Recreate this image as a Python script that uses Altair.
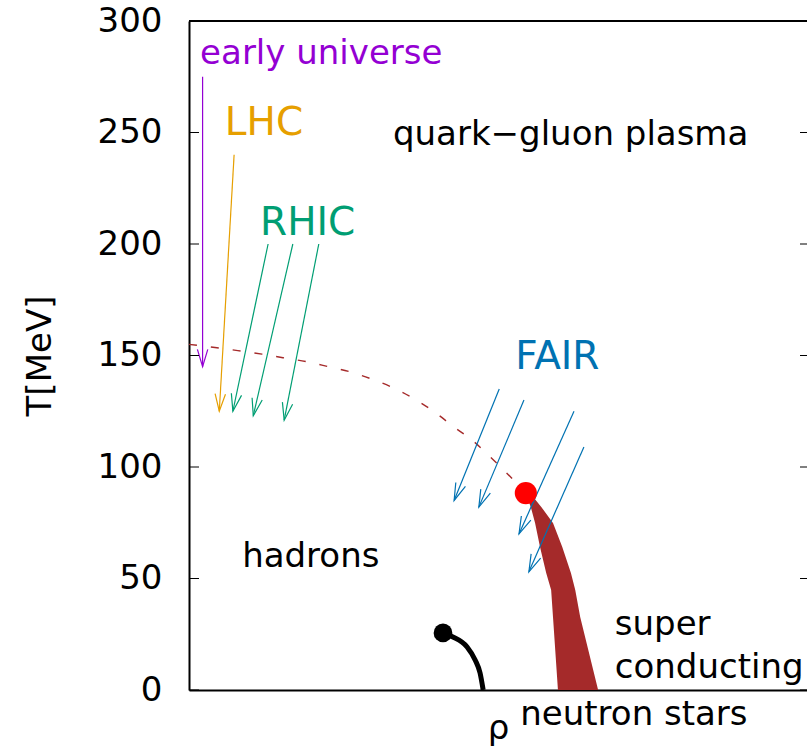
import numpy as np
import pandas as pd
import altair as alt

# ---- plot geometry -------------------------------------------------------
W, H = 618, 669
RHO_MAX = 10.0
T_MAX = 300
T_TICKS = [0, 50, 100, 150, 200, 250, 300]
FONT = "DejaVu Sans"

# ---- crossover line (dashed) running into the critical point -------------
crossover_rho = [0.00, 0.42, 0.79, 1.18, 1.52, 1.91, 2.25, 2.64, 2.98,
                 3.33, 3.66, 3.98, 4.27, 4.60, 4.85, 5.13, 5.45]
crossover_T = [155.0, 153.6, 152.2, 150.6, 149.0, 147.2, 145.0, 142.4, 139.2,
               135.2, 130.3, 124.5, 118.3, 111.6, 105.2, 97.6, 88.3]

critical_rho, critical_T = [5.45], [88.3]

# ---- nuclear liquid-gas transition ---------------------------------------
liquid_gas_rho = [4.11, 4.27, 4.50, 4.63, 4.71, 4.76]
liquid_gas_T = [25.6, 23.8, 19.3, 13.5, 7.6, 0.0]
nuclear_rho, nuclear_T = [4.11], [25.6]

# ---- colour-superconducting band -----------------------------------------
band_T = [0.0, 32.7, 44.8, 52.5, 64.1, 74.9, 82.1, 86.5]
band_rho_lo = [5.97, 5.89, 5.86, 5.78, 5.68, 5.60, 5.53, 5.47]
band_rho_hi = [6.62, 6.33, 6.25, 6.18, 6.04, 5.89, 5.70, 5.57]

# ---- trajectories (arrows) -----------------------------------------------
arrow_group = ["early universe", "LHC", "RHIC", "RHIC", "RHIC",
               "FAIR", "FAIR", "FAIR", "FAIR"]
arrow_rho0 = [0.22, 0.73, 1.28, 1.68, 2.10, 5.02, 5.42, 6.23, 6.39]
arrow_T0 = [275, 240, 200, 200, 200, 135, 130, 125, 109]
arrow_rho1 = [0.22, 0.49, 0.71, 1.04, 1.54, 4.29, 4.69, 5.34, 5.50]
arrow_T1 = [145, 125, 125, 123, 121, 85, 82, 70, 53]

GROUP_COLOR = {
    "early universe": "#9400D3",
    "LHC": "#E69F00",
    "RHIC": "#009E73",
    "FAIR": "#0072B2",
}

# ---- labels ---------------------------------------------------------------
label_text = ["early universe", "LHC", "RHIC", "FAIR", "quark\u2212gluon plasma",
              "hadrons", "super", "conducting", "neutron stars"]
label_rho = [0.18, 0.58, 1.15, 5.28, 3.30, 0.86, 6.89, 6.89, 5.36]
label_T = [280.5, 249.0, 204.0, 144.0, 244.5, 55.2, 24.7, 5.4, -15.7]
label_size = [34, 39, 39, 39, 34, 34, 34, 34, 34]
label_color = [GROUP_COLOR["early universe"], GROUP_COLOR["LHC"],
               GROUP_COLOR["RHIC"], GROUP_COLOR["FAIR"],
               "black", "black", "black", "black", "black"]

# ---- tables ---------------------------------------------------------------
crossover = pd.DataFrame({"rho": crossover_rho, "T": crossover_T})
critical = pd.DataFrame({"rho": critical_rho, "T": critical_T})
liquid_gas = pd.DataFrame({"rho": liquid_gas_rho, "T": liquid_gas_T})
nuclear = pd.DataFrame({"rho": nuclear_rho, "T": nuclear_T})
band = pd.DataFrame({"T": band_T, "lo": band_rho_lo, "hi": band_rho_hi})
arrows = pd.DataFrame({
    "group": arrow_group,
    "rho": arrow_rho0, "T": arrow_T0,
    "rho1": arrow_rho1, "T1": arrow_T1,
})
arrows["color"] = arrows["group"].map(GROUP_COLOR)
# heading of each arrow on screen, used to rotate the arrowhead glyph
dx = (arrows["rho1"] - arrows["rho"]) * (W / RHO_MAX)
dy = -(arrows["T1"] - arrows["T"]) * (H / T_MAX)
arrows["ang"] = (np.degrees(np.arctan2(-dx, dy)) + 360.0) % 360.0
heads = arrows[["rho1", "T1", "color", "ang"]].rename(columns={"rho1": "rho", "T1": "T"})

labels = pd.DataFrame({"text": label_text, "rho": label_rho, "T": label_T,
                       "size": label_size, "color": label_color})
ticks = pd.DataFrame({"T": T_TICKS})
top = pd.DataFrame({"T": [T_MAX]})

# ---- shared scales / axes -----------------------------------------------
X_SCALE = alt.Scale(domain=[0, RHO_MAX], nice=False, zero=False)
Y_SCALE = alt.Scale(domain=[0, T_MAX], nice=False)
X_AXIS = alt.Axis(title="\u03c1", ticks=False, labels=False, grid=False,
                  domain=True, domainColor="black", domainWidth=2,
                  titleFont=FONT, titleFontSize=34, titleFontWeight="normal",
                  titleColor="black", titlePadding=21)
Y_AXIS = alt.Axis(title="T[MeV]", values=T_TICKS, ticks=False, tickSize=0, grid=False,
                  domain=True, domainColor="black", domainWidth=2,
                  labelFont=FONT, labelFontSize=34, labelColor="black", labelPadding=27,
                  titleFont=FONT, titleFontSize=34, titleFontWeight="normal",
                  titleColor="black", titlePadding=40)


def xq(field):
    return alt.X(f"{field}:Q", scale=X_SCALE, axis=X_AXIS)


def yq(field):
    return alt.Y(f"{field}:Q", scale=Y_SCALE, axis=Y_AXIS)


ARROW_HEAD = "M -0.3 -1 L 0 0 L 0.3 -1"

band_layer = alt.Chart(band).mark_area(orient="horizontal", color="#A52A2A", opacity=1).encode(
    y=yq("T"), x=xq("lo"), x2=alt.X2("hi")
)

crossover_layer = alt.Chart(crossover).mark_line(
    color="#A52A2A", strokeWidth=1.4, strokeDash=[8, 14], interpolate="monotone"
).encode(x=xq("rho"), y=yq("T"))

liquid_gas_layer = alt.Chart(liquid_gas).mark_line(
    color="black", strokeWidth=5, interpolate="monotone"
).encode(x=xq("rho"), y=yq("T"))

shaft_layer = alt.Chart(arrows).mark_rule(strokeWidth=1.2, opacity=1).encode(
    x=xq("rho"), y=yq("T"), x2=alt.X2("rho1:Q"), y2=alt.Y2("T1:Q"),
    color=alt.Color("color:N", scale=None),
)

head_layer = alt.Chart(heads).mark_point(
    shape=ARROW_HEAD, filled=False, size=1200, strokeWidth=1.2, opacity=1
).encode(
    x=xq("rho"), y=yq("T"),
    color=alt.Color("color:N", scale=None),
    angle=alt.Angle("ang:Q", scale=None),
)

critical_layer = alt.Chart(critical).mark_circle(size=490, color="#FF0000", opacity=1).encode(
    x=xq("rho"), y=yq("T")
)
nuclear_layer = alt.Chart(nuclear).mark_circle(size=350, color="black", opacity=1).encode(
    x=xq("rho"), y=yq("T")
)

text_layer = alt.Chart(labels).mark_text(align="left", baseline="alphabetic", font=FONT).encode(
    x=xq("rho"), y=yq("T"), text="text:N",
    color=alt.Color("color:N", scale=None),
    size=alt.Size("size:Q", scale=None),
)

# inward ticks on the left border and mirrored ticks on the right edge
left_ticks = alt.Chart(ticks).mark_rule(color="black", strokeWidth=1).encode(
    y=yq("T"), x=alt.value(0), x2=alt.value(10)
)
right_ticks = alt.Chart(ticks).mark_rule(color="black", strokeWidth=1).encode(
    y=yq("T"), x=alt.value(W - 7), x2=alt.value(W)
)
top_border = alt.Chart(top).mark_rule(color="black", strokeWidth=2).encode(
    y=yq("T"), x=alt.value(0), x2=alt.value(W)
)

chart = alt.layer(
    band_layer, crossover_layer, liquid_gas_layer, shaft_layer, head_layer,
    critical_layer, nuclear_layer, text_layer, left_ticks, right_ticks, top_border,
).properties(
    width=W, height=H,
    padding={"left": 189, "top": 21, "right": 0, "bottom": 60},
    autosize=alt.AutoSizeParams(type="none"),
    background="white",
).configure_view(stroke=None)

chart.save("out.html", embed_options={"renderer": "svg", "actions": False})
